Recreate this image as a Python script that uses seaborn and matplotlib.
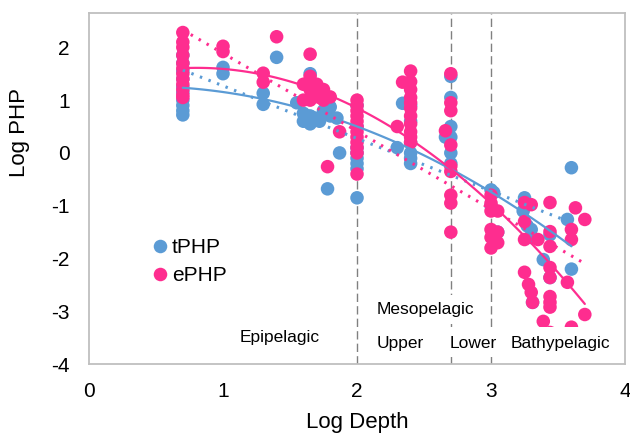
import numpy as np
import pandas as pd
import seaborn as sns
import matplotlib.pyplot as plt

# tPHP (blue) values
t_x = [0.7, 0.7, 0.7, 0.7, 0.7, 0.7, 0.7, 0.7, 0.7, 0.7,
       1.0, 1.0, 1.3, 1.3, 1.4,
       1.65, 1.55, 1.6, 1.6, 1.65, 1.65, 1.7, 1.72, 1.75, 1.8, 1.8, 1.85, 1.87, 1.78,
       2.0, 2.0, 2.0, 2.0, 2.0, 2.0, 2.0, 2.0,
       2.3, 2.34,
       2.4, 2.4, 2.4, 2.4, 2.4, 2.4,
       2.7, 2.7, 2.7, 2.7, 2.7, 2.7, 2.66,
       3.0, 3.02, 3.0, 3.05,
       3.25, 3.24, 3.27, 3.3, 3.3, 3.39, 3.44, 3.44, 3.31, 3.6, 3.57, 3.6]
t_y = [1.85, 1.7, 1.55, 1.4, 1.25, 1.15, 1.0, 0.9, 0.8, 0.72,
       1.62, 1.5, 1.13, 0.92, 1.81,
       1.5, 0.95, 0.75, 0.6, 0.7, 0.55, 0.65, 0.6, 0.8, 0.7, 0.87, 0.66, 0.0, -0.68,
       0.9, 0.5, 0.1, 0.0, -0.1, -0.2, -0.3, -0.85,
       0.1, 0.94,
       0.9, 0.6, 0.2, 0.0, -0.1, -0.2,
       1.45, 1.05, 0.5, 0.3, 0.0, -0.2, 0.3,
       -0.7, -0.75, -1.0, -1.5,
       -0.85, -1.1, -1.38, -1.45, -1.6, -2.02, -1.55, -2.36, -2.83, -0.28, -1.26, -2.2]

# ePHP (pink) values
e_x = [0.7] * 12 + [1.0, 1.0, 1.3, 1.3, 1.4,
       1.65, 1.6, 1.6, 1.65, 1.65, 1.65, 1.7, 1.7, 1.72, 1.75, 1.75, 1.8, 1.87, 1.78] + \
      [2.0] * 12 + [2.3, 2.34] + [2.4] * 11 + [2.7] * 9 + [2.66,
       3.0, 3.0, 3.0, 3.05, 3.0, 3.0, 3.05, 3.0, 3.05,
       3.25, 3.3, 3.25, 3.25, 3.35, 3.44, 3.44, 3.44, 3.44, 3.44,
       3.25, 3.28, 3.3, 3.31, 3.44, 3.44, 3.44, 3.39,
       3.63, 3.7, 3.6, 3.6, 3.57, 3.7, 3.6, 3.44, 3.5]
e_y = [2.28, 2.1, 2.0, 1.85, 1.7, 1.6, 1.5, 1.4, 1.3, 1.2, 1.1, 1.05,
       2.02, 1.92, 1.51, 1.34, 2.2,
       1.87, 1.3, 1.0, 1.45, 1.2, 1.0, 1.3, 1.1, 1.05, 1.2, 1.0, 1.06, 0.4, -0.26,
       1.0, 0.9, 0.8, 0.7, 0.6, 0.5, 0.4, 0.3, 0.2, 0.1, 0.0, -0.4,
       0.5, 1.34,
       1.55, 1.35, 1.2, 1.05, 0.95, 0.85, 0.7, 0.55, 0.4, 0.3, 0.2,
       1.5, 0.95, 0.8, 0.15, -0.25, -0.35, -0.8, -0.95, -1.5, 0.42,
       -0.8, -0.95, -1.1, -1.1, -1.45, -1.6, -1.7, -1.8, -1.5,
       -0.94, -0.98, -1.3, -1.64, -1.64, -0.94, -1.49, -1.77, -2.17, -2.36,
       -2.26, -2.49, -2.64, -2.83, -2.72, -2.83, -2.92, -3.19,
       -1.04, -1.26, -1.45, -1.64, -2.45, -3.06, -3.3, -3.4, -3.45]

zones = [2.0, 2.7, 3.0]
blue = '#5B9BD5'
pink = '#FE2D8F'

df = pd.concat([
    pd.DataFrame({'depth': t_x, 'php': t_y, 'series': 'tPHP'}),
    pd.DataFrame({'depth': e_x, 'php': e_y, 'series': 'ePHP'}),
])

sns.set_style('white')
plt.rcParams['font.family'] = ['Liberation Sans', 'DejaVu Sans']
plt.rcParams['axes.unicode_minus'] = False
plt.rcParams['text.color'] = 'black'
plt.rcParams['axes.labelcolor'] = 'black'
plt.rcParams['xtick.color'] = 'black'
plt.rcParams['ytick.color'] = 'black'

fig = plt.figure(figsize=(6.3, 4.33), dpi=100)
ax = fig.add_axes([0.1413, 0.159, 0.8508, 0.811])

for z in zones:
    ax.axvline(z, color='#808080', lw=1, ls=(0, (6, 3)), zorder=0.5)

sns.scatterplot(data=df, x='depth', y='php', hue='series',
                palette={'tPHP': blue, 'ePHP': pink}, s=95, linewidth=0,
                ax=ax, zorder=2)

# trend lines: 2nd order polynomial (solid) and linear (dotted)
for name, c in [('tPHP', blue), ('ePHP', pink)]:
    d = df[df.series == name]
    sns.regplot(data=d, x='depth', y='php', order=2, scatter=False, ci=None,
                ax=ax, color=c, line_kws=dict(lw=1.6, zorder=3))
    sns.regplot(data=d, x='depth', y='php', order=1, scatter=False, ci=None,
                ax=ax, color=c, line_kws=dict(lw=2.2, ls=(0, (0.8, 2.2)), zorder=3))

box = dict(boxstyle='square,pad=0.4', fc='white', ec='none')
ax.text(1.42, -3.5, 'Epipelagic', fontsize=12.5, ha='center', va='center', bbox=box, zorder=5)
ax.text(2.51, -2.97, 'Mesopelagic', fontsize=12.5, ha='center', va='center', bbox=box, zorder=5)
ax.text(2.32, -3.6, 'Upper', fontsize=12.5, ha='center', va='center', bbox=box, zorder=5)
ax.text(2.87, -3.6, 'Lower', fontsize=12.5, ha='center', va='center', bbox=box, zorder=5)
ax.text(3.52, -3.6, 'Bathypelagic', fontsize=12.5, ha='center', va='center',
        bbox=dict(boxstyle='square,pad=0.5', fc='white', ec='none'), zorder=5)

ax.set_xlim(0, 4)
ax.set_ylim(-4, 2.65)
ax.set_xticks([0, 1, 2, 3, 4])
ax.set_yticks([-4, -3, -2, -1, 0, 1, 2])
ax.tick_params(length=0, labelsize=15)
ax.tick_params(axis='x', pad=13)
ax.tick_params(axis='y', pad=14)
ax.set_xlabel('Log Depth', fontsize=16)
ax.set_ylabel('Log PHP', fontsize=16)
ax.yaxis.set_label_coords(-0.11, 0.66)
ax.xaxis.set_label_coords(0.5, -0.135)
for sp in ax.spines.values():
    sp.set_color('#BFBFBF')
    sp.set_linewidth(1.3)

ax.legend(loc='center left', bbox_to_anchor=(0.117, 0.292), frameon=False,
          fontsize=15, handlelength=0.8, handletextpad=0.16, borderpad=0,
          borderaxespad=0, labelspacing=0.45)

fig.savefig('out.png', dpi=100)
